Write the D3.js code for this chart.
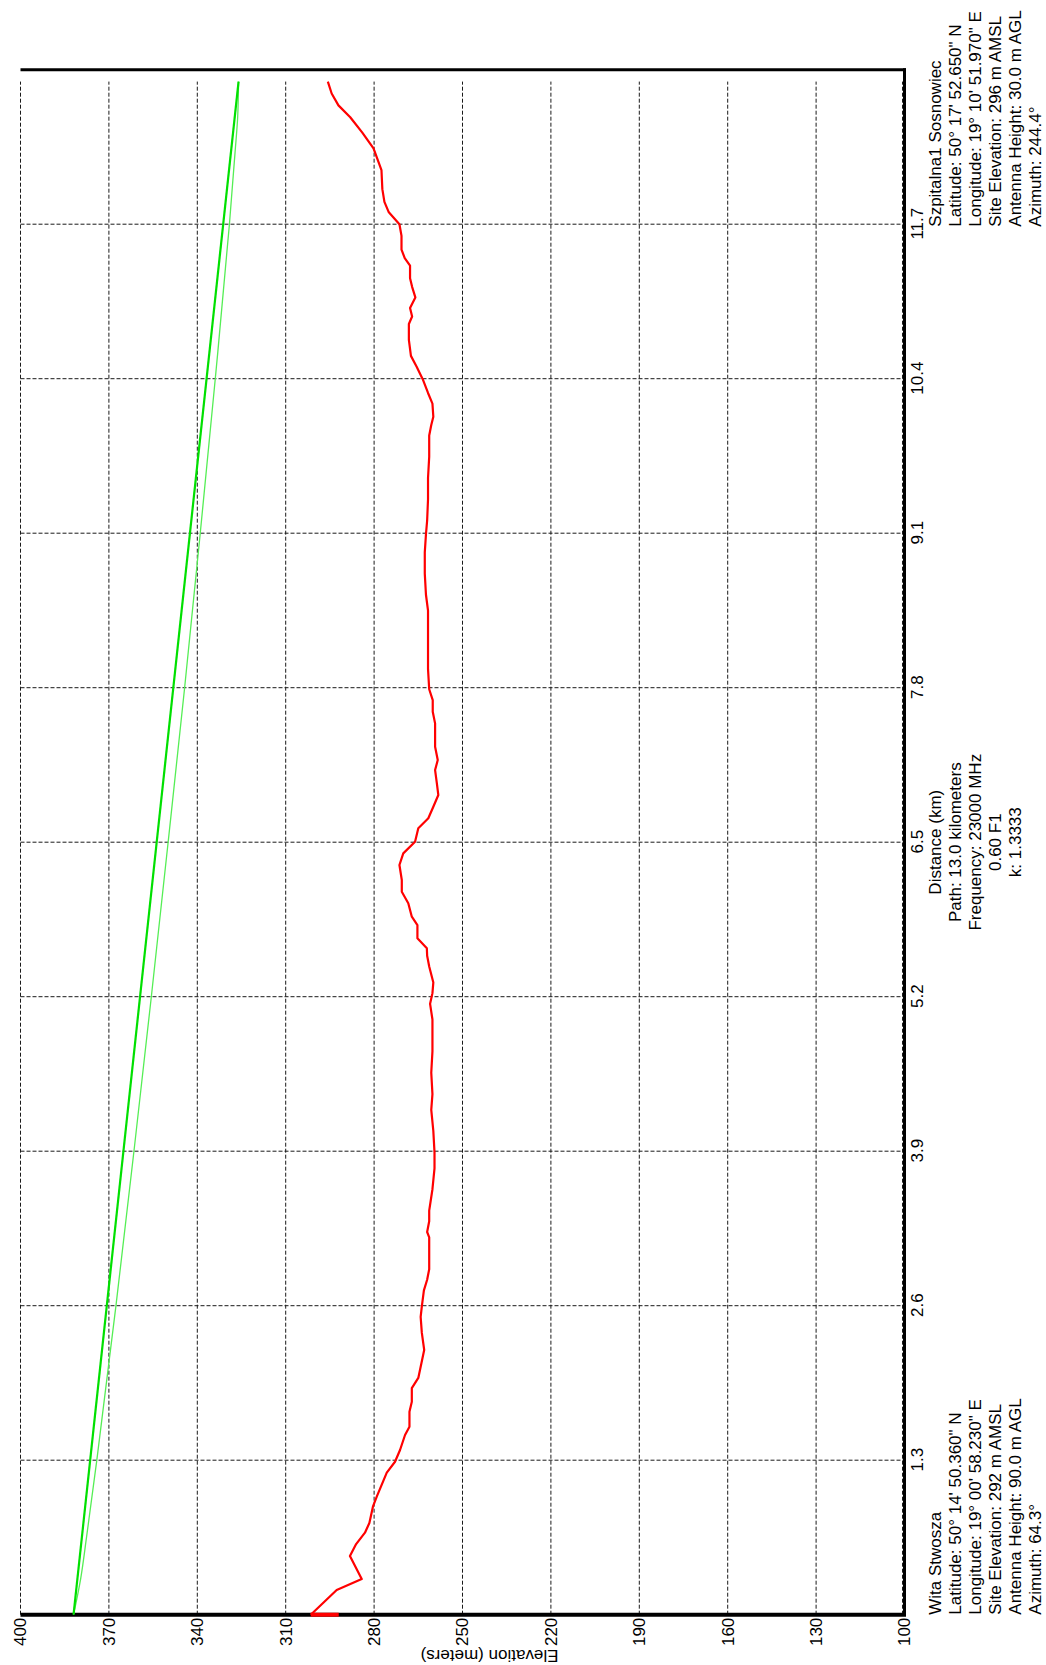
<!DOCTYPE html>
<html>
<head>
<meta charset="utf-8">
<script src="https://cdn.jsdelivr.net/npm/d3@7"></script>
<style>
  body { margin: 0; background: #fff; }
  svg { display: block; }
  text { font-family: "Liberation Sans", Arial, sans-serif; font-size: 17px; fill: #000; }
</style>
</head>
<body>
<svg id="chart" width="1046" height="1665"></svg>
<script>
// Axis ticks
const elevTicks = [400, 370, 340, 310, 280, 250, 220, 190, 160, 130, 100];
const distTicks = [1.3, 2.6, 3.9, 5.2, 6.5, 7.8, 9.1, 10.4, 11.7];

// Terrain profile (km, m AMSL)
const profileKm = [0.000, 0.208, 0.300, 0.494, 0.594, 0.690, 0.772, 0.909, 0.993, 1.195,
  1.287, 1.386, 1.512, 1.582, 1.708, 1.792, 1.907, 1.992, 2.228, 2.371,
  2.505, 2.595, 2.729, 2.818, 2.907, 3.175, 3.220, 3.310, 3.400, 3.580,
  3.756, 3.890, 4.070, 4.248, 4.380, 4.560, 4.740, 5.008, 5.140, 5.230,
  5.320, 5.454, 5.544, 5.607, 5.691, 5.803, 5.873, 5.986, 6.083, 6.182,
  6.308, 6.406, 6.504, 6.617, 6.701, 6.798, 6.897, 6.995, 7.107, 7.191,
  7.303, 7.500, 7.598, 7.696, 7.787, 7.956, 8.448, 8.582, 8.760, 8.939,
  9.091, 9.207, 9.386, 9.565, 9.743, 9.922, 10.010, 10.080, 10.190, 10.280,
  10.396, 10.503, 10.592, 10.726, 10.860, 10.923, 10.995, 11.084, 11.173, 11.245,
  11.352, 11.415, 11.486, 11.602, 11.700, 11.800, 11.888, 11.995, 12.156, 12.338,
  12.470, 12.600, 12.700, 12.800, 12.900];
const profileElev = [301.5, 292.7, 284.2, 288.2, 286.1, 283.1, 281.6, 280.4, 279.1, 275.7,
  272.9, 271.2, 269.5, 268.0, 268.0, 267.2, 267.2, 265.0, 263.0, 263.8,
  264.2, 263.8, 263.1, 262.0, 261.3, 261.3, 262.0, 261.3, 261.3, 260.2,
  259.5, 259.5, 259.9, 260.6, 260.2, 260.6, 260.2, 260.2, 261.0, 260.2,
  259.9, 261.3, 262.0, 262.1, 265.3, 265.3, 267.2, 268.4, 270.6, 270.6,
  271.4, 270.1, 266.1, 265.0, 261.6, 259.9, 258.2, 258.7, 259.3, 258.4,
  259.3, 259.3, 260.1, 260.1, 261.3, 261.7, 261.7, 262.4, 262.8, 262.8,
  262.4, 262.0, 261.7, 261.7, 261.3, 261.3, 260.6, 259.9, 260.2, 261.7,
  263.5, 265.6, 267.5, 268.2, 268.2, 267.1, 267.8, 266.0, 267.1, 267.8,
  267.8, 269.6, 270.7, 270.7, 271.4, 275.0, 276.5, 277.2, 277.5, 280.2,
  284.0, 288.1, 292.1, 294.4, 295.7];

// Ground elevation marker at the first site
const siteMarkKm = [0, 0];
const siteMarkElev = [292, 301.5];

// Line of sight between antennas
const losKm = [0, 12.9];
const losElev = [382, 326];

// Lower 0.60 F1 clearance boundary
const fresnelKm = [0, 0.3, 0.65, 1.3, 2.6, 3.9, 5.2, 6.5, 7.8, 9.1, 10.4, 11.7, 12.3, 12.6, 12.9];
const fresnelElev = [382, 379.6, 377.6, 374.1, 367.6, 361.5, 355.6, 349.9, 344.3, 339.0, 333.9, 329.1, 327.2, 326.3, 326];

const pathEndKm = 12.9;

// Site annotations
const siteA = ["Wita Stwosza", "Latitude: 50° 14' 50.360\" N", "Longitude: 19° 00' 58.230\" E",
  "Site Elevation: 292 m AMSL", "Antenna Height: 90.0 m AGL", "Azimuth: 64.3°"];
const siteB = ["Szpitalna1 Sosnowiec", "Latitude: 50° 17' 52.650\" N", "Longitude: 19° 10' 51.970\" E",
  "Site Elevation: 296 m AMSL", "Antenna Height: 30.0 m AGL", "Azimuth: 244.4°"];
const pathInfo = ["Distance (km)", "Path: 13.0 kilometers", "Frequency: 23000 MHz", "0.60 F1", "k: 1.3333"];

// The profile is laid out with distance running left→right, then the whole
// plot is turned a quarter-turn counter-clockwise so distance runs upward.
const W = 1545, H = 884;
const x = d3.scaleLinear().domain([0, 13]).range([0, W]);
const y = d3.scaleLinear().domain([100, 400]).range([H, 0]);

const svg = d3.select("#chart");
const g = svg.append("g").attr("transform", "translate(20.5,1614.7) rotate(-90)");

// Grid
g.append("g").selectAll("line").data(elevTicks).join("line")
  .attr("x1", 0).attr("x2", x(pathEndKm))
  .attr("y1", d => y(d) - (d === 100 ? 2 : 0)).attr("y2", d => y(d) - (d === 100 ? 2 : 0))
  .attr("stroke", "#1a1a1a").attr("stroke-width", 1).attr("stroke-dasharray", "4,2");
g.append("g").selectAll("line").data(distTicks).join("line")
  .attr("x1", d => x(d)).attr("x2", d => x(d))
  .attr("y1", 0).attr("y2", H)
  .attr("stroke", "#1a1a1a").attr("stroke-width", 1).attr("stroke-dasharray", "4,2");

// Frame
g.append("line").attr("x1", x(13)).attr("x2", x(13)).attr("y1", 0).attr("y2", H + 1.5)
  .attr("stroke", "#000").attr("stroke-width", 3);
g.append("line").attr("x1", 0).attr("x2", x(13) + 1.5).attr("y1", H).attr("y2", H)
  .attr("stroke", "#000").attr("stroke-width", 3);
g.append("line").attr("x1", 0).attr("x2", 0).attr("y1", 0).attr("y2", H + 1.5)
  .attr("stroke", "#000").attr("stroke-width", 4);

// Lines
const pts = (ks, es) => ks.map((k, i) => [k, es[i]]);
const line = d3.line().x(d => x(d[0])).y(d => y(d[1]));

g.append("path").datum(pts(fresnelKm, fresnelElev)).attr("d", d3.line().curve(d3.curveMonotoneX).x(d => x(d[0])).y(d => y(d[1])))
  .attr("fill", "none").attr("stroke", "#55ee55").attr("stroke-width", 1.3);
g.append("path").datum(pts(losKm, losElev)).attr("d", line)
  .attr("fill", "none").attr("stroke", "#00e000").attr("stroke-width", 2.2);
g.append("path").datum(pts(profileKm, profileElev)).attr("d", line)
  .attr("fill", "none").attr("stroke", "#ff0000").attr("stroke-width", 2.2).attr("stroke-linejoin", "round");
g.append("path").datum(pts(siteMarkKm, siteMarkElev)).attr("d", line)
  .attr("fill", "none").attr("stroke", "#ff0000").attr("stroke-width", 4);

// Axes
const yAxis = g.append("g").call(d3.axisLeft(y).tickValues(elevTicks).tickSize(0).tickPadding(3));
const xAxis = g.append("g").attr("transform", `translate(0,${H})`)
  .call(d3.axisBottom(x).tickValues(distTicks).tickSize(0).tickPadding(6.5).tickFormat(d3.format(".1f")));
[yAxis, xAxis].forEach(a => {
  a.select(".domain").remove();
  a.attr("font-family", null).attr("font-size", null);
  a.selectAll("text").attr("fill", "#000");
});

// Axis title
g.append("text").attr("transform", `translate(-35,469) rotate(-90)`)
  .attr("text-anchor", "middle").text("Elevation (meters)");

// Annotation blocks under the distance axis
const block = (lines, xPos, anchor) => {
  g.append("g").selectAll("text").data(lines).join("text")
    .attr("x", xPos).attr("y", (d, i) => H + 30.5 + i * 20).attr("dy", "0.35em")
    .attr("text-anchor", anchor).text(d => d);
};
block(siteA, 0, "start");
block(pathInfo, x(6.5), "middle");
block(siteB, 1388, "start");
</script>
</body>
</html>
